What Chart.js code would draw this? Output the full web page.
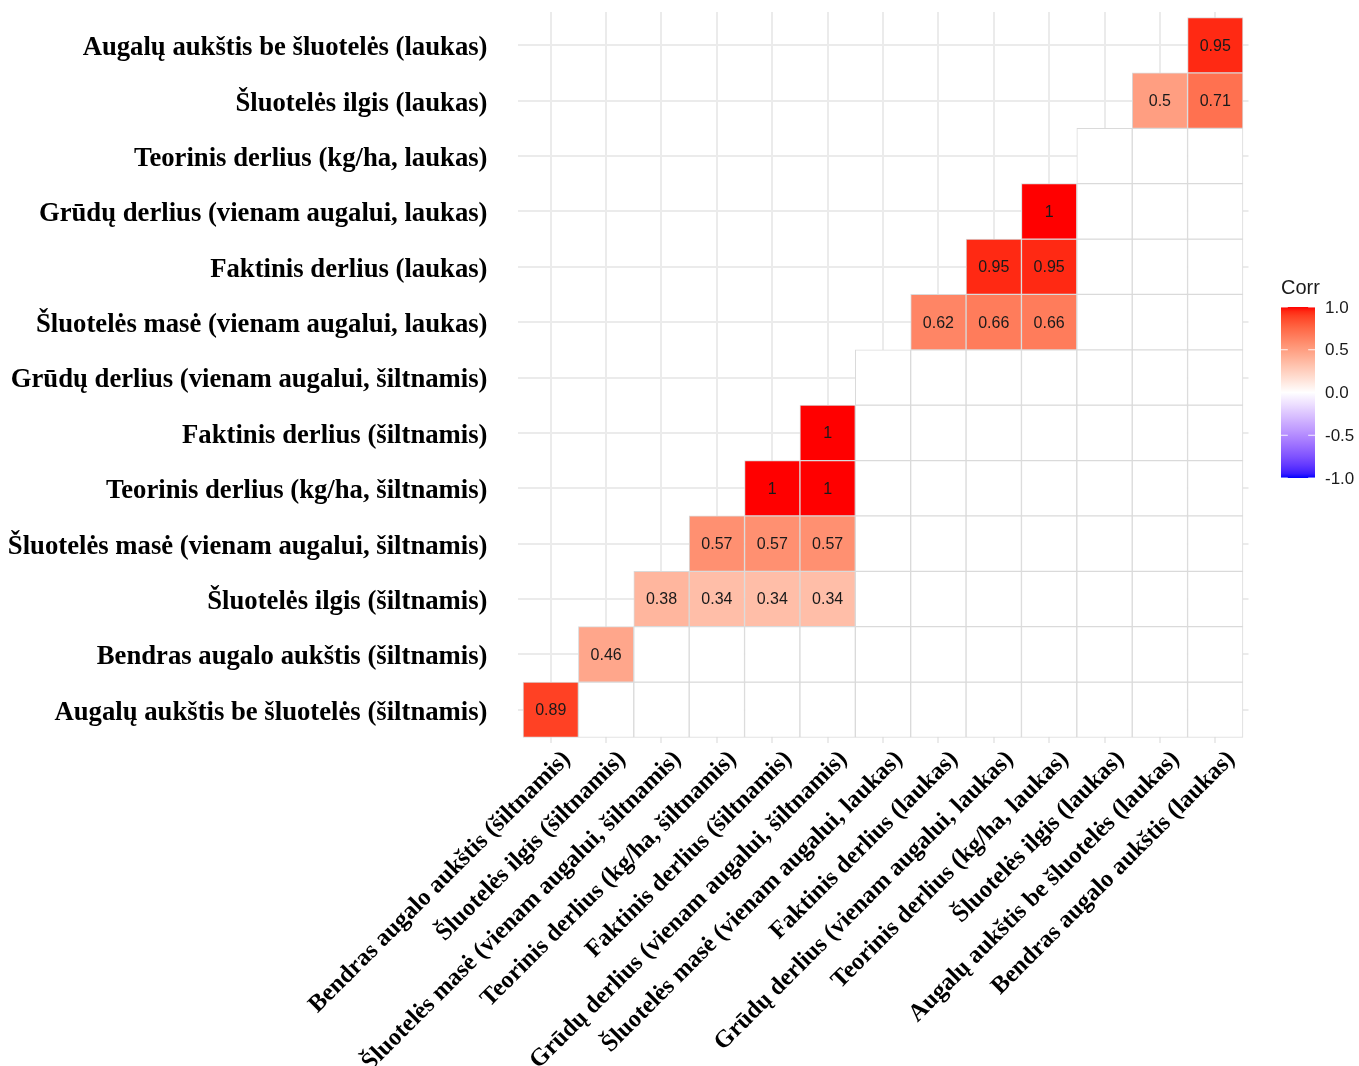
<!DOCTYPE html>
<html lang="lt">
<head>
  <meta charset="UTF-8">
  <title>Koreliacijų matrica</title>
  <script src="https://cdn.jsdelivr.net/npm/chart.js"></script>
  <style>
    html, body { margin: 0; padding: 0; background: #fff; }
    #wrap { width: 1359px; height: 1066px; position: relative; }
  </style>
</head>
<body>
  <div id="wrap"><canvas id="corrChart"></canvas></div>

  <script>
    // columns, left to right
    const xLabels = [
      'Bendras augalo aukštis (šiltnamis)',
      'Šluotelės ilgis (šiltnamis)',
      'Šluotelės masė (vienam augalui, šiltnamis)',
      'Teorinis derlius (kg/ha, šiltnamis)',
      'Faktinis derlius (šiltnamis)',
      'Grūdų derlius (vienam augalui, šiltnamis)',
      'Šluotelės masė (vienam augalui, laukas)',
      'Faktinis derlius (laukas)',
      'Grūdų derlius (vienam augalui, laukas)',
      'Teorinis derlius (kg/ha, laukas)',
      'Šluotelės ilgis (laukas)',
      'Augalų aukštis be šluotelės (laukas)',
      'Bendras augalo aukštis (laukas)'
    ];

    // rows, bottom to top
    const yLabels = [
      'Augalų aukštis be šluotelės (šiltnamis)',
      'Bendras augalo aukštis (šiltnamis)',
      'Šluotelės ilgis (šiltnamis)',
      'Šluotelės masė (vienam augalui, šiltnamis)',
      'Teorinis derlius (kg/ha, šiltnamis)',
      'Faktinis derlius (šiltnamis)',
      'Grūdų derlius (vienam augalui, šiltnamis)',
      'Šluotelės masė (vienam augalui, laukas)',
      'Faktinis derlius (laukas)',
      'Grūdų derlius (vienam augalui, laukas)',
      'Teorinis derlius (kg/ha, laukas)',
      'Šluotelės ilgis (laukas)',
      'Augalų aukštis be šluotelės (laukas)'
    ];

    // one row per y label (bottom -> top), one value per column; null = not significant
    const corrRows = [
      [0.89, null, null, null, null, null, null, null, null, null, null, null, null],
      [null, 0.46, null, null, null, null, null, null, null, null, null, null, null],
      [null, null, 0.38, 0.34, 0.34, 0.34, null, null, null, null, null, null, null],
      [null, null, null, 0.57, 0.57, 0.57, null, null, null, null, null, null, null],
      [null, null, null, null, 1, 1, null, null, null, null, null, null, null],
      [null, null, null, null, null, 1, null, null, null, null, null, null, null],
      [null, null, null, null, null, null, null, null, null, null, null, null, null],
      [null, null, null, null, null, null, null, 0.62, 0.66, 0.66, null, null, null],
      [null, null, null, null, null, null, null, null, 0.95, 0.95, null, null, null],
      [null, null, null, null, null, null, null, null, null, 1, null, null, null],
      [null, null, null, null, null, null, null, null, null, null, null, null, null],
      [null, null, null, null, null, null, null, null, null, null, null, 0.5, 0.71],
      [null, null, null, null, null, null, null, null, null, null, null, null, 0.95]
    ];

    const legendTicks = [1, 0.5, 0, -0.5, -1];

    // blue - white - red, mixed in Lab like ggplot's gradient2
    const LAB_WHITE = [100, 0, 0];
    const LAB_RED = [53.2408, 80.0925, 67.2032];
    const LAB_BLUE = [32.2970, 79.1875, -107.8602];

    function labToRgb(L, a, b) {
      const fy = (L + 16) / 116, fx = fy + a / 500, fz = fy - b / 200;
      const inv = t => t > 6 / 29 ? t * t * t : 3 * (6 / 29) * (6 / 29) * (t - 4 / 29);
      const X = 0.95047 * inv(fx), Y = inv(fy), Z = 1.08883 * inv(fz);
      const lin = [
        3.2404542 * X - 1.5371385 * Y - 0.4985314 * Z,
        -0.9692660 * X + 1.8760108 * Y + 0.0415560 * Z,
        0.0556434 * X - 0.2040259 * Y + 1.0572252 * Z
      ];
      return lin.map(c => {
        const s = c <= 0.0031308 ? 12.92 * c : 1.055 * Math.pow(c, 1 / 2.4) - 0.055;
        return Math.round(Math.min(1, Math.max(0, s)) * 255);
      });
    }

    function corrColor(v) {
      const end = v >= 0 ? LAB_RED : LAB_BLUE;
      const t = Math.abs(v);
      const lab = LAB_WHITE.map((w, k) => w + t * (end[k] - w));
      const [r, g, b] = labToRgb(...lab);
      return `rgb(${r},${g},${b})`;
    }

    // tiles of the triangle (column >= row)
    const cells = [], cellValues = [], cellColors = [];
    corrRows.forEach((row, r) => {
      row.forEach((v, c) => {
        if (c < r) return;
        cells.push({ x: c + 1, y: [r + 0.5, r + 1.5] });
        cellValues.push(v);
        cellColors.push(v === null ? '#ffffff' : corrColor(v));
      });
    });

    const cellText = {
      id: 'cellText',
      afterDatasetsDraw(chart) {
        const ctx = chart.ctx;
        const meta = chart.getDatasetMeta(0);
        ctx.save();
        ctx.font = '16px "Liberation Sans", Arial, sans-serif';
        ctx.fillStyle = '#1a1a1a';
        ctx.textAlign = 'center';
        ctx.textBaseline = 'middle';
        meta.data.forEach((bar, i) => {
          const v = cellValues[i];
          if (v === null) return;
          const p = bar.getCenterPoint();
          ctx.fillText(String(v), p.x, p.y + 1);
        });
        ctx.restore();
      }
    };

    // colour bar legend on the right
    const colorLegend = {
      id: 'colorLegend',
      afterDraw(chart) {
        const ctx = chart.ctx;
        const x0 = chart.chartArea.right + 32.5, top = 307, h = 171, w = 34;
        ctx.save();
        ctx.fillStyle = '#1a1a1a';
        ctx.font = '20px "Liberation Sans", Arial, sans-serif';
        ctx.textBaseline = 'middle';
        ctx.fillText('Corr', x0, 288);

        const grad = ctx.createLinearGradient(0, top, 0, top + h);
        for (let k = 0; k <= 40; k++) grad.addColorStop(k / 40, corrColor(1 - k / 20));
        ctx.fillStyle = grad;
        ctx.fillRect(x0, top, w, h);

        ctx.font = '17px "Liberation Sans", Arial, sans-serif';
        legendTicks.forEach(t => {
          const y = top + (1 - t) / 2 * h;
          ctx.strokeStyle = 'rgba(255,255,255,0.9)';
          ctx.lineWidth = 1;
          ctx.beginPath();
          ctx.moveTo(x0, y); ctx.lineTo(x0 + w / 5, y);
          ctx.moveTo(x0 + w - w / 5, y); ctx.lineTo(x0 + w, y);
          ctx.stroke();
          ctx.fillStyle = '#1a1a1a';
          ctx.fillText(t.toFixed(1), x0 + w + 10, y + 1);
        });
        ctx.restore();
      }
    };

    const axisFont = size => ({ family: '"Liberation Serif", "Times New Roman", serif', size, weight: 'bold' });

    new Chart(document.getElementById('corrChart'), {
      type: 'bar',
      data: {
        datasets: [{
          data: cells,
          backgroundColor: cellColors,
          borderColor: '#dadada',
          borderWidth: 1,
          borderSkipped: false,
          barPercentage: 1,
          categoryPercentage: 1
        }]
      },
      options: {
        responsive: true,
        maintainAspectRatio: false,
        animation: false,
        events: [],
        layout: { padding: { top: 12, right: 110.5, left: 0, bottom: 0 } },
        plugins: {
          legend: { display: false },
          tooltip: { enabled: false }
        },
        scales: {
          x: {
            type: 'linear',
            offset: false,
            min: 0.4,
            max: 13.6,
            afterBuildTicks: s => { s.ticks = xLabels.map((_, i) => ({ value: i + 1 })); },
            afterFit: s => {
              s.height = 323;
              s.paddingLeft = 0; s.paddingRight = 0;
            },
            grid: { offset: false, color: '#ebebeb', lineWidth: 2, drawTicks: false },
            border: { display: false },
            ticks: {
              autoSkip: false,
              minRotation: 45,
              maxRotation: 45,
              padding: 2,
              labelOffset: 16,
              color: '#000',
              font: axisFont(24.5),
              callback: v => xLabels[v - 1]
            }
          },
          y: {
            type: 'linear',
            min: 0.4,
            max: 13.6,
            afterBuildTicks: s => { s.ticks = yLabels.map((_, i) => ({ value: i + 1 })); },
            afterFit: s => {
              s.width = 517.5;
              s.paddingTop = 0; s.paddingBottom = 0;
            },
            grid: { color: '#ebebeb', lineWidth: 2, drawTicks: false },
            border: { display: false },
            ticks: {
              padding: 30,
              labelOffset: 3,
              color: '#000',
              font: axisFont(26.7),
              callback: v => yLabels[v - 1]
            }
          }
        }
      },
      plugins: [cellText, colorLegend]
    });
  </script>
</body>
</html>
